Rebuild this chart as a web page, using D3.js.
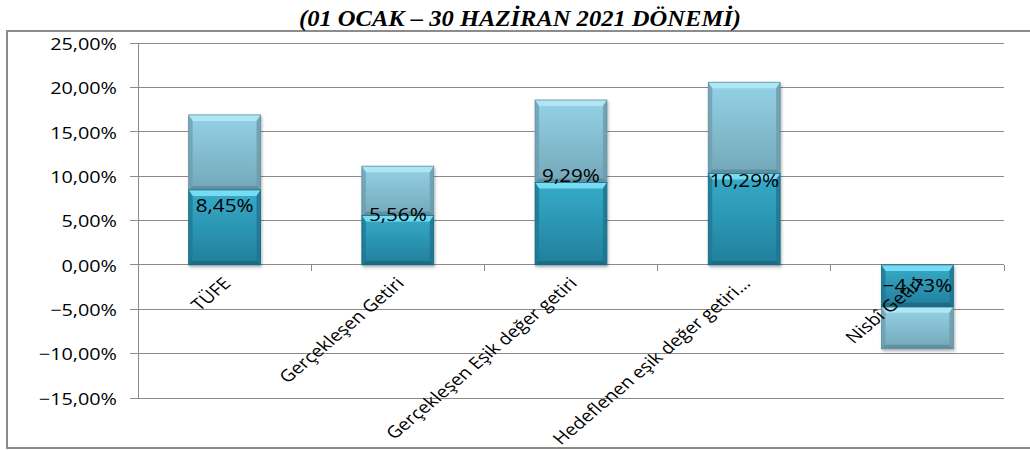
<!DOCTYPE html>
<html><head><meta charset="utf-8">
<script src="https://cdn.jsdelivr.net/npm/d3@7"></script>
<style>html,body{margin:0;padding:0;background:#fff;}svg{display:block;}</style>
</head><body>
<script>
const title = "(01 OCAK – 30 HAZİRAN 2021 DÖNEMİ)";
const categories = ["TÜFE", "Gerçekleşen Getiri", "Gerçekleşen Eşik değer getiri", "Hedeflenen eşik değer getiri…", "Nisbî Getiri"];
const seriesA = [8.45, 5.56, 9.29, 10.29, -4.73];
const seriesB = [8.45, 5.56, 9.29, 10.29, -4.73];
const yTicks = [-15, -10, -5, 0, 5, 10, 15, 20, 25];
const labelNudge = [16, -1, -7, 7, -21];

const W = 1030, H = 450;
const svg = d3.select("body").append("svg").attr("width", W).attr("height", H);
const defs = svg.append("defs");
const SX = 1.18;
const FONT = "'Open Sans', sans-serif";

function grad(id, stops) {
  const g = defs.append("linearGradient").attr("id", id).attr("x1", 0).attr("y1", 0).attr("x2", 0).attr("y2", 1);
  stops.forEach(s => g.append("stop").attr("offset", s[0]).attr("stop-color", s[1]));
}
grad("bodyA", [[0, "#36acca"], [1, "#217f9b"]]);
grad("bodyB", [[0, "#95d2e6"], [1, "#73a8b9"]]);
const f = defs.append("filter").attr("id", "sh").attr("x", "-20%").attr("y", "-20%").attr("width", "140%").attr("height", "140%");
f.append("feDropShadow").attr("dx", 1).attr("dy", 2).attr("stdDeviation", 1.5).attr("flood-color", "#000").attr("flood-opacity", 0.3);

const pal = {
  A: {body: "url(#bodyA)", top: "#74dcf3", side: "#1f7793", bottom: "#1a6780", edge: "#1a6a83"},
  B: {body: "url(#bodyB)", top: "#aee6f6", side: "#6c9cad", bottom: "#5d8a9a", edge: "#62909f"}
};

// frame
svg.append("rect").attr("x", 7).attr("y", 31).attr("width", 1040).attr("height", 417)
  .attr("fill", "none").attr("stroke", "#8c8c8c").attr("stroke-width", 2);

// title
svg.append("text").attr("x", 520).attr("y", 26).attr("text-anchor", "middle")
  .attr("font-family", "'Liberation Serif', serif").attr("font-weight", "bold").attr("font-style", "italic")
  .attr("font-size", 24).attr("textLength", 442).attr("lengthAdjust", "spacingAndGlyphs").attr("fill", "#000").text(title);

const y = d3.scaleLinear().domain([-15, 25]).range([398, 43]);
const x = d3.scaleBand().domain(categories).range([138, 1004]).paddingInner(0.585).paddingOuter(0.2925);
const xb = d3.scaleBand().domain(categories).range([138, 1004]).padding(0);

// gridlines
svg.append("g").selectAll("line").data(yTicks).join("line")
  .attr("x1", 130).attr("x2", 1004).attr("y1", d => y(d)).attr("y2", d => y(d))
  .attr("stroke", "#8a8a8a").attr("stroke-width", 1).attr("shape-rendering", "crispEdges");
// y axis line
svg.append("line").attr("x1", 138).attr("x2", 138).attr("y1", y(25)).attr("y2", y(-15))
  .attr("stroke", "#8a8a8a").attr("shape-rendering", "crispEdges");
// category ticks
const bounds = categories.map(c => xb(c) + xb.bandwidth());
svg.append("g").selectAll("line").data(bounds).join("line")
  .attr("x1", d => d).attr("x2", d => d).attr("y1", y(0)).attr("y2", y(0) + 6)
  .attr("stroke", "#8a8a8a").attr("shape-rendering", "crispEdges");

// y tick labels
const loc = d3.formatLocale({decimal: ",", thousands: ".", grouping: [3], currency: ["", "₺"]});
const fmt = v => loc.format(".2f")(v) + "%";
svg.append("g").selectAll("text").data(yTicks).join("text")
  .attr("transform", d => `translate(117,${y(d)}) scale(${SX},1)`)
  .attr("text-anchor", "end").attr("dominant-baseline", "central")
  .attr("font-family", FONT).attr("font-size", 16.8).attr("fill", "#000").text(d => fmt(d));

// bevelled segments
function segment(g, x0, w, v0, v1, p) {
  const yt = Math.min(y(v0), y(v1)), yb = Math.max(y(v0), y(v1));
  const h = yb - yt;
  const bt = Math.min(6, h / 3), bs = 4, bb = 4;
  const x1 = x0 + w;
  g.append("rect").attr("x", x0).attr("y", yt).attr("width", w).attr("height", h).attr("fill", p.body);
  g.append("polygon").attr("points", [[x0, yt], [x1, yt], [x1 - bs, yt + bt], [x0 + bs, yt + bt]].join(" ")).attr("fill", p.top);
  g.append("polygon").attr("points", [[x0, yt], [x0 + bs, yt + bt], [x0 + bs, yb - bb], [x0, yb]].join(" ")).attr("fill", p.side).attr("opacity", 0.75);
  g.append("polygon").attr("points", [[x1, yt], [x1 - bs, yt + bt], [x1 - bs, yb - bb], [x1, yb]].join(" ")).attr("fill", p.side).attr("opacity", 0.85);
  g.append("polygon").attr("points", [[x0, yb], [x0 + bs, yb - bb], [x1 - bs, yb - bb], [x1, yb]].join(" ")).attr("fill", p.bottom).attr("opacity", 0.8);
  g.append("rect").attr("x", x0).attr("y", yt).attr("width", w).attr("height", h).attr("fill", "none").attr("stroke", p.edge).attr("stroke-width", 0.8);
}
const bars = svg.append("g");
categories.forEach((c, i) => {
  const g = bars.append("g").attr("filter", "url(#sh)");
  const a = seriesA[i], b = seriesB[i];
  segment(g, x(c), x.bandwidth(), a, a + b, pal.B);
  segment(g, x(c), x.bandwidth(), 0, a, pal.A);
});

// category labels
svg.append("g").selectAll("text").data(categories).join("text")
  .attr("transform", d => `translate(${x(d) + x.bandwidth() / 2 + 2},${y(0) + 15}) scale(${SX},1) rotate(-45)`)
  .attr("text-anchor", "end").attr("dominant-baseline", "central")
  .attr("font-family", FONT).attr("font-size", 16.5).attr("fill", "#000").text(d => d);

// data labels
svg.append("g").selectAll("text").data(categories).join("text")
  .attr("transform", (d, i) => `translate(${x(d) + x.bandwidth() / 2},${y(seriesA[i]) + labelNudge[i]}) scale(${SX},1)`)
  .attr("text-anchor", "middle").attr("dominant-baseline", "central")
  .attr("font-family", FONT).attr("font-size", 17.5).attr("fill", "#000")
  .text((d, i) => fmt(seriesA[i]));
</script>
</body></html>
